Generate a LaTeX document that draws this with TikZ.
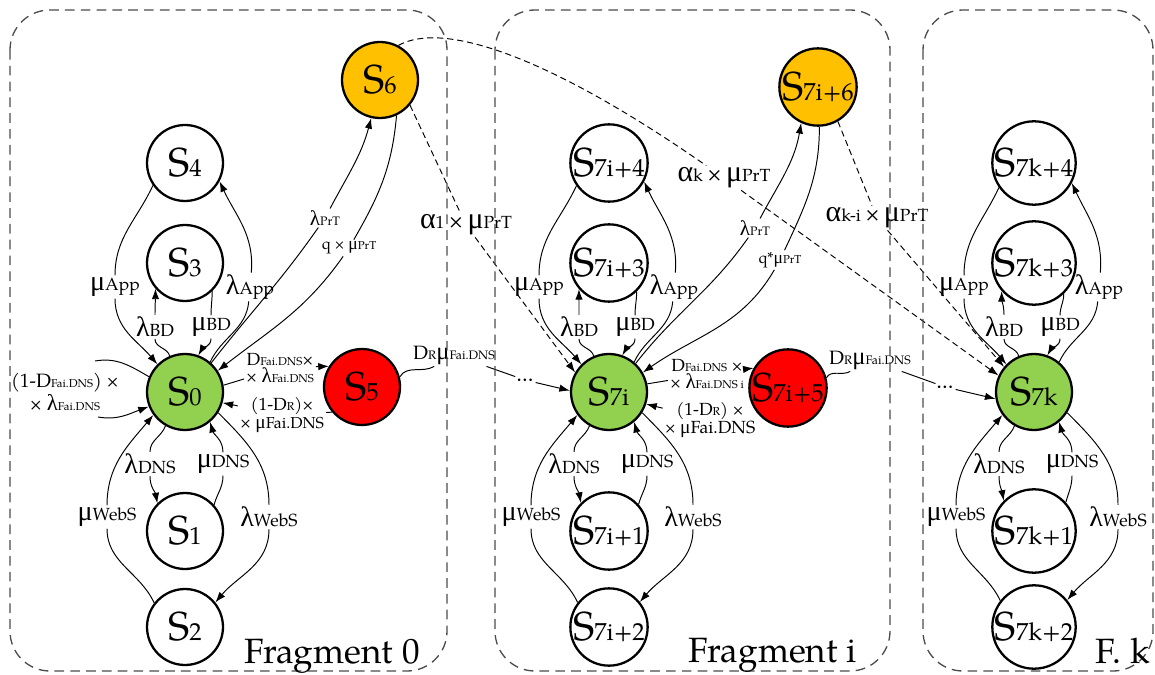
\RequirePackage{fix-cm}
\documentclass[tikz,border=0pt]{standalone}
\usepackage{fontspec}
\setmainfont{texgyrepagella}[Extension=.otf,UprightFont=*-regular,BoldFont=*-bold,ItalicFont=*-italic,BoldItalicFont=*-bolditalic]
\newfontfamily\grk{Liberation Serif}
\usetikzlibrary{arrows.meta}

\definecolor{sgreen}{HTML}{92D050}
\definecolor{sred}{HTML}{FF0000}
\definecolor{sorange}{HTML}{FFC000}

\newcommand\fs[1]{\fontsize{#1}{#1}\selectfont}
\newcommand\sname[1]{{\fs{23}S}{\fs{14}#1}}
\newcommand\g[2]{{\fs{#1}\grk #2}}
\newcommand\rate[2]{\g{16}{#1}{\fs{10}#2}}

\tikzset{
  state/.style={circle,draw,line width=1.3pt,minimum size=1.52cm,inner sep=0pt},
  lab/.style={inner sep=1pt,align=center},
  tr/.style={line width=0.55pt,-{Latex[length=6pt,width=4.2pt]}},
  trd/.style={tr,dash pattern=on 3.5pt off 2.2pt},
  plain/.style={line width=0.55pt},
  frag/.style={draw=black!70,line width=0.75pt,dash pattern=on 5.5pt off 3.5pt,rounded corners=0.8cm},
  title/.style={anchor=base east,inner sep=0pt,font=\fs{20}}
}

% one fragment: x of the column, name prefix, texts of states 0..4
\newcommand\chainpart[7]{%
  \node[state,fill=sgreen] (#2z) at (#1,-392) {\sname{#3}};
  \node[state] (#2a) at (#1,-531) {\sname{#4}};
  \node[state] (#2b) at (#1,-627) {\sname{#5}};
  \node[state] (#2c) at (#1,-263) {\sname{#6}};
  \node[state] (#2d) at (#1,-163) {\sname{#7}};
  \node[lab] (#2lbd) at (#1-30,-327) {\rate{λ}{BD}};
  \node[lab] (#2mbd) at (#1+26,-327) {\rate{μ}{BD}};
  \node[lab] (#2lapp) at (#1+65,-287) {\rate{λ}{App}};
  \node[lab] (#2mapp) at (#1-70,-287) {\rate{μ}{App}};
  \node[lab] (#2ldns) at (#1-35,-464) {\rate{λ}{DNS}};
  \node[lab] (#2mdns) at (#1+38,-464) {\rate{μ}{DNS}};
  \node[lab] (#2lweb) at (#1+84,-517) {\rate{λ}{WebS}};
  \node[lab] (#2mweb) at (#1-78,-517) {\rate{μ}{WebS}};
  \draw[tr] (#2z.113) to[out=105,in=-90] (#2lbd) to[out=90,in=-90] (#2c.221);
  \draw[tr] (#2c.-46) to[out=-90,in=90] (#2mbd) to[out=-90,in=60] (#2z.70);
  \draw[tr] (#2z.50) to[out=65,in=-95] (#2lapp) to[out=85,in=-65] (#2d.-28);
  \draw[tr] (#2d.215) to[out=245,in=90] (#2mapp) to[out=-90,in=130] (#2z.135);
  \draw[tr] (#2z.240) to[out=250,in=90] (#2ldns) to[out=-90,in=100] (#2a.135);
  \draw[tr] (#2a.42) to[out=75,in=-90] (#2mdns) to[out=90,in=-75] (#2z.-50);
  \draw[tr] (#2z.-32) to[out=-45,in=90] (#2lweb) to[out=-90,in=50] (#2b.39);
  \draw[tr] (#2b.142) to[out=115,in=-90] (#2mweb) to[out=90,in=-130] (#2z.-144);
}

\begin{document}
\begin{tikzpicture}[x=0.02cm,y=0.02cm]
\useasboundingbox (0,0) rectangle (1155,-675);

% the three fragments
\chainpart{185}{a}{0}{1}{2}{3}{4}
\chainpart{609}{b}{7i}{7i+1}{7i+2}{7i+3}{7i+4}
\chainpart{1034}{c}{7k}{7k+1}{7k+2}{7k+3}{7k+4}

% extra states of fragments 0 and i
\node[state,fill=sred] (a5) at (362,-387) {\sname{5}};
\node[state,fill=sorange] (a6) at (380,-80) {\sname{6}};
\node[state,fill=sred] (b5) at (788,-388) {\sname{7i+5}};
\node[state,fill=sorange] (b6) at (818,-87) {\sname{7i+6}};

% self loop of S0
\coordinate (lpA) at (95,-361);
\coordinate (lpB) at (98,-417);
\node[lab,font=\fs{11}] (lp) at (65,-392) {(1-D{\fs{6.5}Fai.DNS}) ×\\× \g{13}{λ}{\fs{6.5}Fai.DNS}};
\draw[plain] (az.157) to[out=150,in=10] (lpA);
\draw[tr] (lpB) to[out=-10,in=200] (az.202);

% fragment 0: S0 <-> S5, S0 <-> S6
\node[lab,font=\fs{10}] (l05) at (280,-368) {D{\fs{6.5}Fai.DNS}×\\× \g{12}{λ}{\fs{6.5}Fai.DNS}};
\node[lab,font=\fs{10}] (l50) at (282,-415) {(1-D{\fs{6.5}R})×\\× \g{11}{μ}{\fs{9}Fai.DNS}};
\draw[tr] (az.10) -- (l05) -- (a5.148);
\draw[tr] (a5.220) -- (l50) -- (az.-16);

\node[lab] (lprt) at (325,-218) {\g{12}{λ}{\fs{7}PrT}};
\node[lab] (qprt) at (349,-248) {{\fs{9}q ×~}\g{10}{μ}{\fs{6.5}PrT}};
\draw[tr] (az.48) to[out=52,in=-125] (lprt) to[out=62,in=-105] (a6.-103);
\draw[tr] (a6.-65) to[out=-95,in=60] (qprt) to[out=-125,in=38] (az.33);

% S5 -> next fragment
\node[lab] (dr1) at (454,-355) {{\fs{11}D}{\fs{7}R}\g{14}{μ}{\fs{7}Fai.DNS}};
\node[lab,font=\fs{13}] (dt1) at (525,-380) {...};
\draw[plain] (a5.15) to[out=60,in=-150] (dr1);
\draw[plain] (dr1) -- (dt1);
\draw[tr] (dt1) -- (bz.178);

% fragment i: S7i <-> S7i+5, S7i <-> S7i+6
\node[lab,font=\fs{10}] (m05) at (707,-374) {D{\fs{6.5}Fai.DNS} ×\\× \g{12}{λ}{\fs{6.5}Fai.DNS i}};
\node[lab,font=\fs{10}] (m50) at (710,-420) {(1-D{\fs{6.5}R}) ×\\× \g{11}{μ}{\fs{10}Fai.DNS}};
\draw[tr] (bz.12) -- (m05) -- (b5.150);
\draw[tr] (b5.218) -- (m50) -- (bz.-18);

\node[lab] (mlprt) at (755,-228) {\g{12}{λ}{\fs{7}PrT}};
\node[lab] (mqprt) at (780,-260) {{\fs{9}q*}\g{10}{μ}{\fs{6.5}PrT}};
\draw[tr] (bz.47) to[out=52,in=-125] (mlprt) to[out=62,in=-100] (b6.-115);
\draw[tr] (b6.-88) to[out=-90,in=65] (mqprt) to[out=-120,in=35] (bz.30);

\node[lab] (dr2) at (870,-360) {{\fs{11}D}{\fs{7}R}\g{14}{μ}{\fs{7}Fai.DNS}};
\node[lab,font=\fs{13}] (dt2) at (945,-387) {...};
\draw[plain] (b5.15) to[out=60,in=-150] (dr2);
\draw[plain] (dr2) -- (dt2);
\draw[tr] (dt2) -- (cz.190);

% dashed transitions between fragments
\node[lab] (al1) at (466,-225) {\g{17}{α}{\fs{10}1} {\fs{13}×} \g{17}{μ}{\fs{10}PrT}};
\node[lab] (alk) at (724,-178) {\g{17}{α}{\fs{10}k} {\fs{13}×} \g{17}{μ}{\fs{10}PrT}};
\node[lab] (alki) at (877,-218) {\g{17}{α}{\fs{10}k-i} {\fs{13}×} \g{17}{μ}{\fs{10}PrT}};
\draw[trd] (a6.-40) -- (al1) -- (bz.150);
\draw[trd] (a6.62) .. controls (440,-22) and (540,-50) .. (alk) -- (cz.155);
\draw[trd] (b6.-60) -- (alki) -- (cz.140);

% fragment frames and titles
\draw[frag] (10,-10) rectangle (447,-671);
\draw[frag] (495,-10) rectangle (890,-671);
\draw[frag] (923,-10) rectangle (1153,-671);
\node[title] (t0) at (420,-663) {Fragment 0};
\node[title] (t1) at (857,-662) {Fragment i};
\node[title] (t2) at (1150,-663) {F. k};
\end{tikzpicture}
\end{document}
